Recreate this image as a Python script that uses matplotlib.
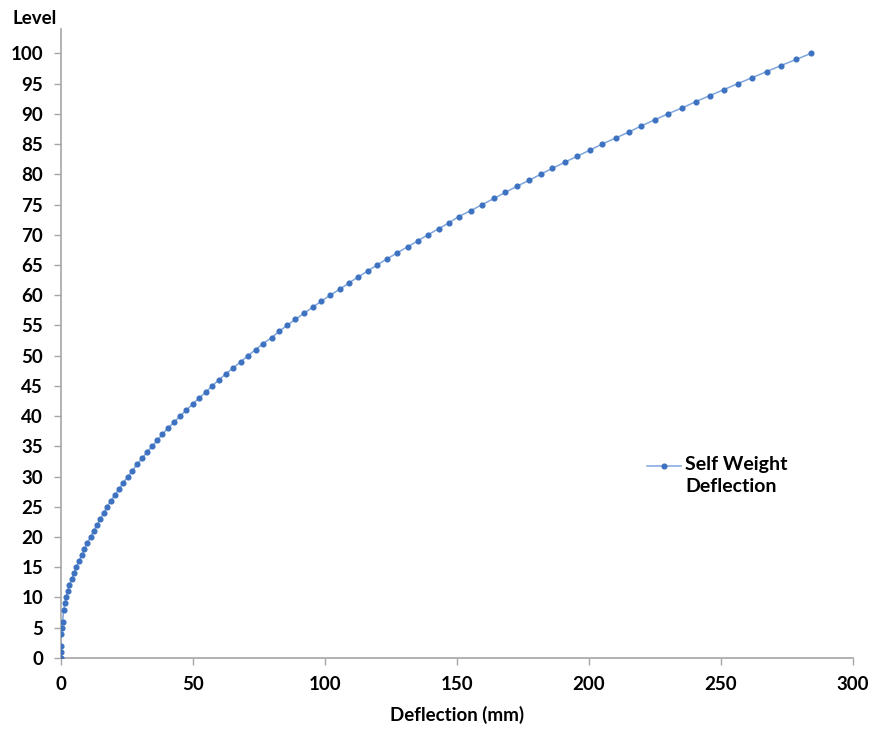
import matplotlib

matplotlib.use("Agg")
import matplotlib.pyplot as plt
import numpy as np

plt.rcParams["font.family"] = ["Lato", "DejaVu Sans"]

# level 0..100, deflection in mm (levels 3 and 7 have no marker in the source)
levels = list(range(0, 101))
deflection = [
    0.0, 0.0, 0.0, None, 0.0, 0.3, 0.6, None, 1.0, 1.4,      # 0-9
    1.9, 2.5, 3.1, 4.0, 4.9, 5.8, 6.8, 7.8, 8.8, 9.9,        # 10-19
    11.2, 12.4, 13.6, 14.9, 16.2, 17.4, 18.9, 20.5, 22.1, 23.6,  # 20-29
    25.4, 27.0, 28.8, 30.7, 32.5, 34.5, 36.5, 38.4, 40.5, 42.8,  # 30-39
    45.1, 47.5, 49.9, 52.4, 54.9, 57.3, 59.8, 62.5, 65.3, 68.1,  # 40-49
    70.9, 73.7, 76.6, 79.8, 82.6, 85.6, 88.8, 92.0, 95.3, 98.6,  # 50-59
    102.0, 105.6, 109.0, 112.5, 116.2, 119.7, 123.5, 127.3, 131.3, 135.2,  # 60-69
    139.0, 143.1, 147.1, 150.6, 155.3, 159.6, 164.0, 168.3, 172.6, 177.3,  # 70-79
    181.7, 186.2, 190.9, 195.6, 200.4, 205.0, 210.1, 215.2, 219.8, 224.9,  # 80-89
    229.9, 235.4, 240.4, 245.7, 251.1, 256.4, 261.9, 267.4, 272.8, 278.5,  # 90-99
    284.1,                                                    # 100
]
series_name = "Self Weight\nDeflection"
x_ticks = [0, 50, 100, 150, 200, 250, 300]
y_ticks = list(range(0, 101, 5))

lev = np.array(levels, dtype=float)
dfl = np.array([np.nan if v is None else v for v in deflection])
ok = ~np.isnan(dfl)

fig = plt.figure(figsize=(8.72, 7.31), dpi=100)
ax = fig.add_axes([0.070, 0.100, 0.908, 0.860])

line_col = "#7fa6dc"
mark_col = "#3d72c1"
ax.plot(dfl[ok], lev[ok], color=line_col, lw=1.1, zorder=2)
ax.plot(dfl[ok], lev[ok], ls="none", marker="o", ms=3.4,
        mfc=mark_col, mec=mark_col, zorder=3)

ax.set_xlim(0, 300)
ax.set_ylim(0, 104)
ax.set_xticks(x_ticks)
ax.set_yticks(y_ticks)
ax.tick_params(axis="both", direction="out", length=5, width=1,
               color="#a6a6a6", labelsize=13.5, pad=8)
for lab in ax.get_xticklabels() + ax.get_yticklabels():
    lab.set_fontweight("bold")
for side in ("top", "right"):
    ax.spines[side].set_visible(False)
for side in ("left", "bottom"):
    ax.spines[side].set_color("#a6a6a6")
    ax.spines[side].set_linewidth(1.2)

ax.set_xlabel("Deflection (mm)", fontsize=13.5, fontweight="bold", labelpad=9)
fig.text(12 / 872, 1 - 18 / 731, "Level", fontsize=13.5, fontweight="bold",
         ha="left", va="center")

# legend drawn by hand so the two-line label sits like the original
lx0, lx1, ly = 647 / 872, 681 / 872, 1 - 466 / 731
fig.add_artist(plt.Line2D([lx0, lx1], [ly, ly], color=line_col, lw=1.1,
                          transform=fig.transFigure))
fig.add_artist(plt.Line2D([(lx0 + lx1) / 2], [ly], marker="o", ms=3.4,
                          mfc=mark_col, mec=mark_col, ls="none",
                          transform=fig.transFigure))
fig.text(685 / 872, ly + 0.014, series_name, fontsize=14, fontweight="bold",
         ha="left", va="top", linespacing=1.4)

fig.savefig("out.png", dpi=100)
